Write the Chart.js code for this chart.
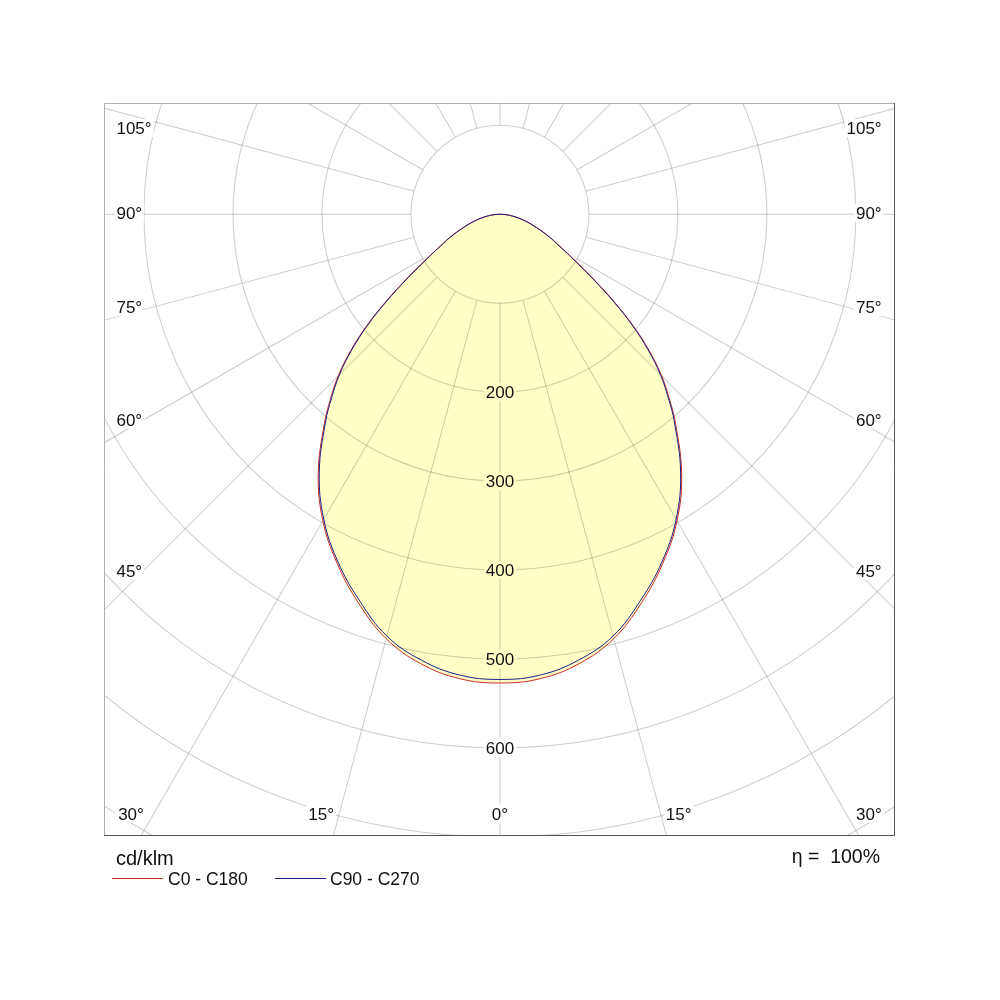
<!DOCTYPE html>
<html>
<head>
<meta charset="utf-8">
<script src="https://cdn.jsdelivr.net/npm/chart.js@4.4.1/dist/chart.umd.min.js"></script>
<style>
  html, body { margin: 0; padding: 0; background: #fff; overflow: hidden; }
  #wrap { position: relative; width: 1000px; height: 1000px; font-family: 'Liberation Sans', Arial, sans-serif; color: #111; }
  #wrap canvas { position: absolute; left: 0; top: 0; }
  .txt { position: absolute; white-space: pre; line-height: 1; }
  .swatch { position: absolute; height: 0; width: 51px; border-top: 1px solid; }
</style>
</head>
<body>
<div id="wrap">
  <canvas id="chart" width="1000" height="1000"></canvas>
  <div class="txt" style="left:116px; top:848px; font-size:20px;">cd/klm</div>
  <div class="txt" style="right:120px; top:847px; font-size:19.5px;">η =  100%</div>
  <div class="swatch" style="left:112px; top:878px; border-color:#cc2a2a;"></div>
  <div class="txt" style="left:168px; top:871px; font-size:17.5px;">C0 - C180</div>
  <div class="swatch" style="left:275px; top:878px; border-color:#1c1c8a;"></div>
  <div class="txt" style="left:330px; top:871px; font-size:17.5px;">C90 - C270</div>
</div>
<script>
// Polar intensity diagram, gamma measured from nadir (0 = straight down)
var gammaDeg = [0, 5, 10, 15, 20, 25, 30, 35, 40, 42.5, 45, 47.5, 50, 52.5, 55, 57.5, 60, 62.5, 65, 70, 75, 80, 85, 90];

// cd/klm, the luminaire is symmetric so C180 / C270 mirror C0 / C90
var c0c180 = [527, 524, 513, 494, 465, 433, 398, 356, 307, 282, 257, 228, 196, 162, 131, 106, 87, 73, 63, 44, 30, 18, 8, 0];
var c90c270 = [523, 520, 509, 491, 462, 431, 396, 354, 305, 280, 255, 226, 194, 160, 129, 104, 86, 72, 62, 43, 29, 17, 7, 0];

// grid
var ringValues = [100, 200, 300, 400, 500, 600, 700, 800];
var ringLabels = [200, 300, 400, 500, 600];
var rayAngles = [0, 15, 30, 45, 60, 75, 90, 105, 120, 135, 150, 165,
                 180, 195, 210, 225, 240, 255, 270, 285, 300, 315, 330, 345];
var sideLabelAngles = [105, 90, 75, 60, 45];
var bottomLabelAngles = [30, 15, 0];

var redColor = '#cc2a2a';
var blueColor = '#1c1c8a';
var fillColor = '#ffffc6';
var gridColor = 'rgba(0, 0, 0, 0.19)';
var labelFont = '17px "Liberation Sans", Arial, sans-serif';

var rad = d => d * Math.PI / 180;

// turn the half profile into a closed outline: left half (C180) then right half (C0)
function toPoints(values) {
  var pts = [];
  for (var i = gammaDeg.length - 1; i >= 0; i--) {
    pts.push({x: -values[i] * Math.sin(rad(gammaDeg[i])), y: -values[i] * Math.cos(rad(gammaDeg[i]))});
  }
  for (var j = 1; j < gammaDeg.length; j++) {
    pts.push({x: values[j] * Math.sin(rad(gammaDeg[j])), y: -values[j] * Math.cos(rad(gammaDeg[j]))});
  }
  return pts;
}

function drawTag(ctx, text, x, y, align, bg) {
  ctx.font = labelFont;
  var w = ctx.measureText(text).width;
  var left = align === 'left' ? x : (align === 'right' ? x - w : x - w / 2);
  ctx.fillStyle = bg;
  ctx.fillRect(left - 2, y - 9, w + 4, 18);
  ctx.fillStyle = '#111';
  ctx.textAlign = align;
  ctx.textBaseline = 'middle';
  ctx.fillText(text, x, y + 1.5);
}

var polarGrid = {
  id: 'polarGrid',
  beforeDatasetsDraw: function (chart) {
    var ctx = chart.ctx, area = chart.chartArea;
    var xs = chart.scales.x, ys = chart.scales.y;
    var px = (r, a) => xs.getPixelForValue(r * Math.sin(rad(a)));
    var py = (r, a) => ys.getPixelForValue(-r * Math.cos(rad(a)));
    var cx = xs.getPixelForValue(0), cy = ys.getPixelForValue(0);

    ctx.save();
    ctx.beginPath();
    ctx.rect(area.left, area.top, area.right - area.left, area.bottom - area.top);
    ctx.clip();

    // yellow area under the outer (C0 - C180) curve
    var line = chart.getDatasetMeta(1).dataset;
    ctx.beginPath();
    if (line && typeof line.path === 'function') {
      line.updateControlPoints(area, 'x');
      line.path(ctx);
    } else {
      chart.getDatasetMeta(1).data.forEach((p, i) => i ? ctx.lineTo(p.x, p.y) : ctx.moveTo(p.x, p.y));
    }
    ctx.closePath();
    ctx.fillStyle = fillColor;
    ctx.fill();

    ctx.strokeStyle = gridColor;
    ctx.lineWidth = 1.1;
    ringValues.forEach(r => {
      ctx.beginPath();
      ctx.arc(cx, cy, xs.getPixelForValue(r) - cx, 0, 2 * Math.PI);
      ctx.stroke();
    });
    rayAngles.forEach(a => {
      ctx.beginPath();
      ctx.moveTo(px(ringValues[0], a), py(ringValues[0], a));
      ctx.lineTo(px(1500, a), py(1500, a));
      ctx.stroke();
    });
    ctx.restore();
  },
  afterDatasetsDraw: function (chart) {
    var ctx = chart.ctx, area = chart.chartArea;
    var xs = chart.scales.x, ys = chart.scales.y;
    var peak = Math.max.apply(null, c0c180);

    ctx.save();
    // ring values along the nadir axis
    ringLabels.forEach(r => {
      drawTag(ctx, String(r), xs.getPixelForValue(0), ys.getPixelForValue(-r), 'center',
              r < peak ? fillColor : '#ffffff');
    });

    // angle labels on the sides, placed where the ray meets an inset frame
    var inset = 416, textEdge = 431, bottomY = -674;
    sideLabelAngles.forEach(g => {
      var a = g < 90 ? g + 1.3 : (g > 90 ? g - 1.5 : g);
      var yv = g === 90 ? 1.5 : -inset * Math.cos(rad(a)) / Math.sin(rad(a)) - 3;
      drawTag(ctx, g + '°', xs.getPixelForValue(-textEdge), ys.getPixelForValue(yv), 'left', '#ffffff');
      drawTag(ctx, g + '°', xs.getPixelForValue(textEdge - 2), ys.getPixelForValue(yv), 'right', '#ffffff');
    });
    bottomLabelAngles.forEach(g => {
      var a = g === 0 ? 0 : g + 1.6;
      var xv = -bottomY * Math.tan(rad(a));
      drawTag(ctx, g + '°', xs.getPixelForValue(-xv), ys.getPixelForValue(bottomY), 'center', '#ffffff');
      if (g !== 0) {
        drawTag(ctx, g + '°', xs.getPixelForValue(xv), ys.getPixelForValue(bottomY), 'center', '#ffffff');
      }
    });

    // frame: lighter top/left, darker bottom/right
    ctx.lineWidth = 1;
    ctx.strokeStyle = '#b0b0b0';
    ctx.beginPath();
    ctx.moveTo(area.left + 0.5, area.bottom);
    ctx.lineTo(area.left + 0.5, area.top + 0.5);
    ctx.lineTo(area.right, area.top + 0.5);
    ctx.stroke();
    ctx.strokeStyle = '#555555';
    ctx.beginPath();
    ctx.moveTo(area.right - 0.5, area.top);
    ctx.lineTo(area.right - 0.5, area.bottom - 0.5);
    ctx.lineTo(area.left, area.bottom - 0.5);
    ctx.stroke();
    ctx.restore();
  }
};

var ctx = document.getElementById('chart').getContext('2d');
var chart = new Chart(ctx, {
  type: 'scatter',
  data: {
    datasets: [{
      label: 'C90 - C270',
      data: toPoints(c90c270),
      showLine: true,
      borderColor: blueColor,
      borderWidth: 1,
      pointRadius: 0,
      tension: 0.4,
      fill: false
    }, {
      label: 'C0 - C180',
      data: toPoints(c0c180),
      showLine: true,
      borderColor: redColor,
      borderWidth: 1,
      pointRadius: 0,
      tension: 0.4,
      fill: false
    }]
  },
  options: {
    responsive: false,
    animation: false,
    layout: { padding: { left: 104, right: 105, top: 103, bottom: 164 } },
    scales: {
      x: { type: 'linear', min: -445, max: 444, display: false },
      y: { type: 'linear', min: -699, max: 125, display: false }
    },
    plugins: {
      legend: { display: false },
      tooltip: { enabled: false }
    }
  },
  plugins: [polarGrid]
});
</script>
</body>
</html>
